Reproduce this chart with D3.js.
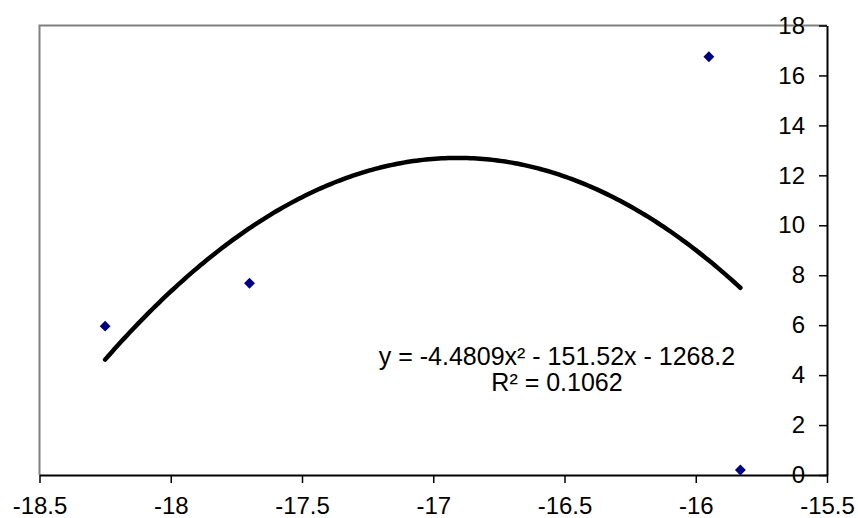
<!DOCTYPE html>
<html>
<head>
<meta charset="utf-8">
<script src="https://cdn.jsdelivr.net/npm/d3@7"></script>
<style>
  html, body { margin: 0; padding: 0; background: #fff; }
  svg { display: block; font-family: "Liberation Sans", Arial, sans-serif; }
</style>
</head>
<body>
<svg id="chart" width="858" height="518"></svg>
<script>
// Observed points
const xValues = [-18.25, -17.70, -15.95, -15.83];
const yValues = [5.96, 7.68, 16.75, 0.2];

// Axis ticks
const xTicks = [-18.5, -18, -17.5, -17, -16.5, -16, -15.5];
const yTicks = [0, 2, 4, 6, 8, 10, 12, 14, 16, 18];

// Polynomial trendline coefficients (y = a x^2 + b x + c) and fit quality
const trendCoef = [-4.4809, -151.52, -1268.2];
const rSquared = 0.1062;

const FONT = "'Liberation Sans', Arial, sans-serif";
const TICK_FS = 24;
const LABEL_FS = 25;

const svg = d3.select("#chart");
const plotLeft = 39.5, plotRight = 827, plotTop = 25.5, plotBottom = 475;

const x = d3.scaleLinear().domain([-18.5, -15.5]).range([plotLeft, plotRight]);
const y = d3.scaleLinear().domain([0, 18]).range([plotBottom, plotTop]);

// Plot frame: grey top and left edges
svg.append("path")
  .attr("d", `M${plotLeft},${plotBottom} V${plotTop} H${plotRight}`)
  .attr("fill", "none").attr("stroke", "#808080").attr("stroke-width", 2);

// Bottom axis (plain hyphen for negatives)
const xAxis = svg.append("g").attr("transform", `translate(0,${plotBottom})`)
  .call(d3.axisBottom(x).tickValues(xTicks).tickSize(8).tickSizeOuter(0).tickFormat(d => String(d)));
xAxis.select(".domain").attr("stroke", "#000").attr("stroke-width", 2);
xAxis.selectAll(".tick line").attr("stroke", "#000").attr("stroke-width", 1.5);
xAxis.selectAll(".tick text").attr("font-size", TICK_FS).attr("fill", "#000")
  .attr("font-family", FONT).attr("y", 22);

// Right axis with labels inside the plot area
const yAxis = svg.append("g").attr("transform", `translate(${plotRight},0)`)
  .call(d3.axisLeft(y).tickValues(yTicks).tickSize(8).tickSizeOuter(0).tickPadding(14).tickFormat(d => String(d)));
yAxis.select(".domain").attr("stroke", "#000").attr("stroke-width", 2);
yAxis.selectAll(".tick line").attr("stroke", "#000").attr("stroke-width", 1.5);
yAxis.selectAll(".tick text").attr("font-size", TICK_FS).attr("fill", "#000")
  .attr("font-family", FONT);

// Trendline across the observed x range
const poly = v => trendCoef[0] * v * v + trendCoef[1] * v + trendCoef[2];
const xMin = d3.min(xValues), xMax = d3.max(xValues);
const curve = d3.range(0, 201).map(i => {
  const xv = xMin + (xMax - xMin) * i / 200;
  return [xv, poly(xv)];
});
svg.append("path")
  .datum(curve)
  .attr("d", d3.line().x(d => x(d[0])).y(d => y(d[1])))
  .attr("fill", "none").attr("stroke", "#000").attr("stroke-width", 4.5)
  .attr("stroke-linecap", "round").attr("stroke-linejoin", "round");

// Markers
const points = xValues.map((v, i) => ({ x: v, y: yValues[i] }));
svg.append("g").selectAll("path").data(points).join("path")
  .attr("d", d3.symbol().type(d3.symbolDiamond2).size(75))
  .attr("transform", d => `translate(${x(d.x)},${y(d.y)})`)
  .attr("fill", "#000080");

// Trendline equation label
const fmt = v => Math.abs(v).toString();
const labelX = 557;
svg.append("text").attr("x", labelX).attr("y", 365)
  .attr("text-anchor", "middle").attr("font-size", LABEL_FS).attr("font-family", FONT).attr("fill", "#000")
  .text(`y = ${trendCoef[0]}x\u00B2 - ${fmt(trendCoef[1])}x - ${fmt(trendCoef[2])}`);
svg.append("text").attr("x", labelX).attr("y", 391)
  .attr("text-anchor", "middle").attr("font-size", LABEL_FS).attr("font-family", FONT).attr("fill", "#000")
  .text(`R\u00B2 = ${rSquared}`);
</script>
</body>
</html>
